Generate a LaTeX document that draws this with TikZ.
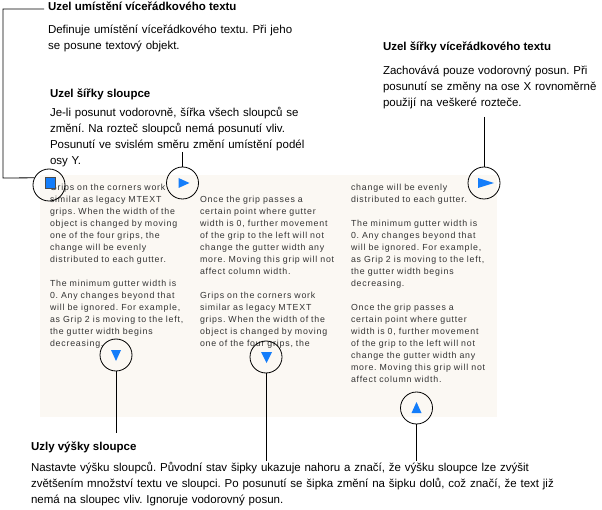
\documentclass[tikz,border=0pt]{standalone}
\usepackage{fontspec}
\setmainfont{Liberation Sans}
\newfontfamily\colfont[LetterSpace=9]{Liberation Sans}
\definecolor{gblue}{RGB}{20,125,250}
\definecolor{paper}{RGB}{251,248,243}
\frenchspacing
\begin{document}
\begin{tikzpicture}[x=1pt,y=-1pt,
 lbl/.style={anchor=base west,inner sep=0,outer sep=0,font=\fontsize{11.5}{16}\selectfont\frenchspacing,text width=#1,align=left},
 lbl/.default=300,
 ttl/.style={anchor=base west,inner sep=0,outer sep=0,font=\fontsize{11.5}{16}\selectfont\bfseries},
 coltxt/.style={anchor=base west,inner sep=0,outer sep=0,font=\colfont\fontsize{8.8}{12}\selectfont\frenchspacing,text=black!80,text width=160,align=left},
 grip/.style={circle,draw=black,line width=0.8pt,minimum size=32pt,inner sep=0},
 conn/.style={draw=black,line width=0.8pt},
 glyph/.style={fill=gblue}]
\useasboundingbox (0,0) rectangle (602,510);
\fill[white] (0,0) rectangle (602,510);
\fill[paper] (40,175) rectangle (497,417);

% column texts
\node[coltxt] (col1) at (50,191) {Grips on the corners work\\similar as legacy MTEXT\\grips. When the width of the\\object is changed by moving\\one of the four grips, the\\change will be evenly\\distributed to each gutter.\\[12pt]The minimum gutter width is\\0. Any changes beyond that\\will be ignored. For example,\\as Grip 2 is moving to the left,\\the gutter width begins\\decreasing.};
\node[coltxt] (col2) at (200,203) {Once the grip passes a\\certain point where gutter\\width is 0, further movement\\of the grip to the left will not\\change the gutter width any\\more. Moving this grip will not\\affect column width.\\[12pt]Grips on the corners work\\similar as legacy MTEXT\\grips. When the width of the\\object is changed by moving\\one of the four grips, the};
\node[coltxt] (col3) at (351,191) {change will be evenly\\distributed to each gutter.\\[12pt]The minimum gutter width is\\0. Any changes beyond that\\will be ignored. For example,\\as Grip 2 is moving to the left,\\the gutter width begins\\decreasing.\\[12pt]Once the grip passes a\\certain point where gutter\\width is 0, further movement\\of the grip to the left will not\\change the gutter width any\\more. Moving this grip will not\\affect column width.};

% labels
\node[ttl] (t1) at (48,11) {Uzel umístění víceřádkového textu};
\node[lbl] (b1) at (48,34) {Definuje umístění víceřádkového textu. Při jeho\\se posune textový objekt.};
\node[ttl] (t2) at (50,98) {Uzel šířky sloupce};
\node[lbl] (b2) at (50,117) {Je-li posunut vodorovně, šířka všech sloupců se\\změní. Na rozteč sloupců nemá posunutí vliv.\\Posunutí ve svislém směru změní umístění podél\\osy Y.};
\node[ttl] (t3) at (383,51) {Uzel šířky víceřádkového textu};
\node[lbl] (b3) at (383,75) {Zachovává pouze vodorovný posun. Při\\posunutí se změny na ose X rovnoměrně\\použijí na veškeré rozteče.};
\node[ttl] (t4) at (31,450) {Uzly výšky sloupce};
\node[lbl=570] (b4) at (31,471) {Nastavte výšku sloupců. Původní stav šipky ukazuje nahoru a značí, že výšku sloupce lze zvýšit\\zvětšením množství textu ve sloupci. Po posunutí se šipka změní na šipku dolů, což značí, že text již\\nemá na sloupec vliv. Ignoruje vodorovný posun.};

% grips
\node[grip] (g1) at (49,185) {};
\node[grip] (g2) at (182.5,183) {};
\node[grip] (g3) at (484,183) {};
\node[grip] (g4) at (116,355) {};
\node[grip] (g5) at (266,357) {};
\node[grip] (g6) at (416.5,408) {};

\filldraw[fill=gblue,draw=black!70,line width=0.6pt] ([shift={(-4,-8)}]g1.center) rectangle ([shift={(6,3)}]g1.center);
\fill[glyph] ([shift={(-4,-5)}]g2.center) -- ([shift={(7,0)}]g2.center) -- ([shift={(-4,5)}]g2.center) -- cycle;
\fill[glyph] ([shift={(-6,-5)}]g3.center) -- ([shift={(10,0)}]g3.center) -- ([shift={(-6,5)}]g3.center) -- cycle;
\fill[glyph] ([shift={(-5,-5)}]g4.center) -- ([shift={(5,-5)}]g4.center) -- ([shift={(0,6)}]g4.center) -- cycle;
\fill[glyph] ([shift={(-5,-5)}]g5.center) -- ([shift={(6,-5)}]g5.center) -- ([shift={(0.5,6)}]g5.center) -- cycle;
\fill[glyph] ([shift={(-5,5)}]g6.center) -- ([shift={(5,5)}]g6.center) -- ([shift={(0,-6)}]g6.center) -- cycle;

% connectors
\coordinate (k0) at (44,9);
\coordinate (k1) at (3,9);
\coordinate (k2) at (3,178);
\coordinate (k3) at (182.5,152);
\coordinate (k4) at (484,117);
\coordinate (k5) at (116,433);
\coordinate (k6) at (266,461);
\coordinate (k7) at (416.5,461);
\draw[conn] (k0) -- (k1) -- (k2) -- (g1.154);
\draw[conn] (k3) -- (g2.north);
\draw[conn] (k4) -- (g3.north);
\draw[conn] (g4.south) -- (k5);
\draw[conn] (g5.south) -- (k6);
\draw[conn] (g6.south) -- (k7);
\end{tikzpicture}
\end{document}
